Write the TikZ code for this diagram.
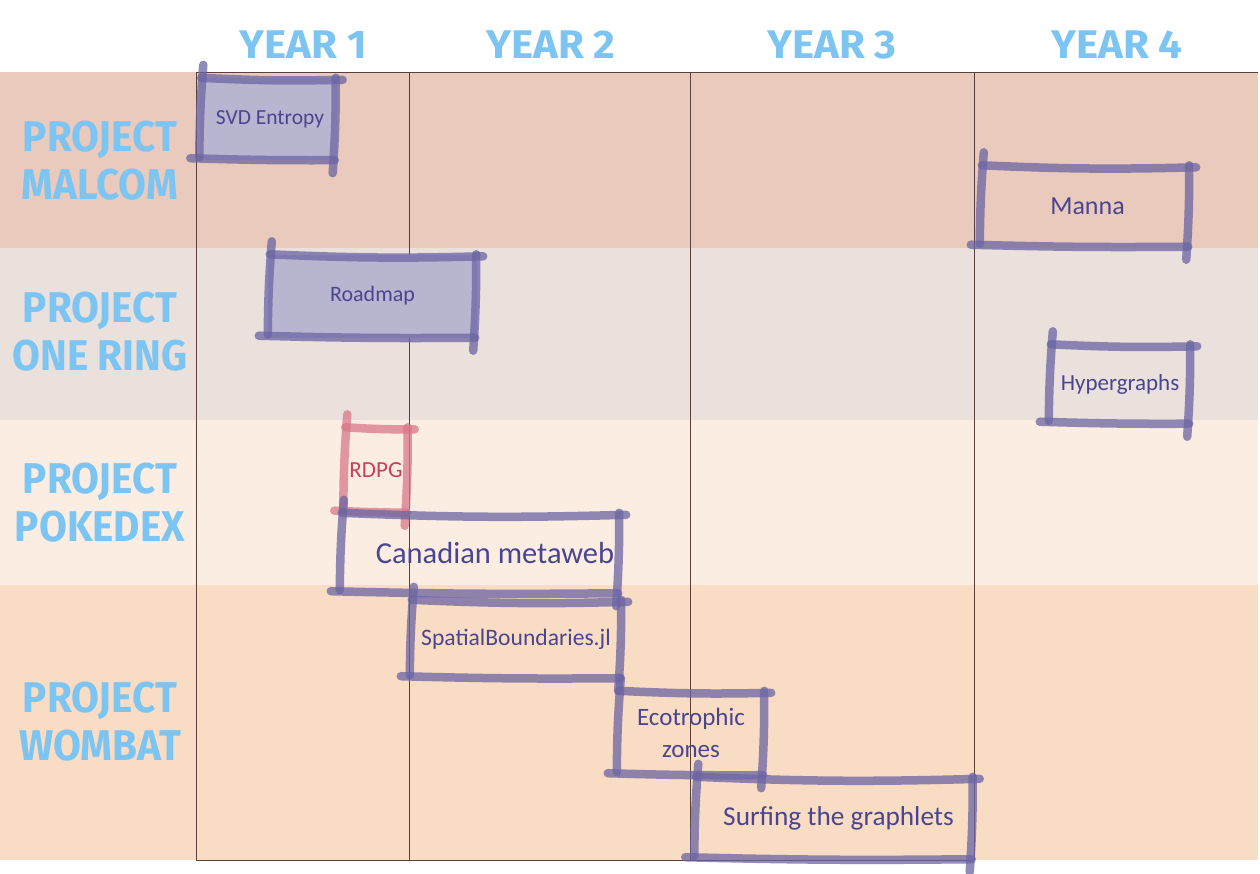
\documentclass[tikz,border=0pt]{standalone}
\usepackage{fontspec}
\newfontfamily\headfont{Fira Sans}[FakeStretch=0.94]
\newfontfamily\yearfont{Fira Sans}[FakeStretch=1.05]
\newfontfamily\boxfont{Carlito}
\definecolor{rowA}{HTML}{E9CABD}
\definecolor{rowB}{HTML}{EAE0DC}
\definecolor{rowC}{HTML}{FBEDE2}
\definecolor{rowD}{HTML}{F9DCC4}
\definecolor{headblue}{HTML}{7CC4F2}
\definecolor{gridline}{HTML}{5A4038}
\definecolor{pen}{HTML}{6B65A3}
\definecolor{redpen}{HTML}{D9788A}
\definecolor{boxfill}{HTML}{B7B5D0}
\definecolor{boxtext}{HTML}{4A4590}
\definecolor{redtext}{HTML}{C8405A}
\tikzset{
  yearlbl/.style={text=headblue,font=\yearfont\bfseries\fontsize{40}{40}\selectfont},
  projlbl/.style={text=headblue,font=\headfont\bfseries\fontsize{43}{48}\selectfont,align=center},
  task/.style={inner sep=0pt,text=boxtext,font=\boxfont\fontsize{22}{32}\selectfont,align=center},
  sk/.style={draw=#1,line width=8.5pt,opacity=0.75,line cap=round},
  grid/.style={draw=gridline,line width=0.9pt}
}
\newcommand\sketch[2]{%
  \draw[sk=#2] ([xshift=0pt,yshift=3pt]#1.south west) to[bend left=2] ([xshift=4pt,yshift=13pt]#1.north west);
  \draw[sk=#2] ([xshift=2pt]#1.north west) to[bend right=2] ([xshift=6pt,yshift=-2pt]#1.north east);
  \draw[sk=#2] ([xshift=-1pt]#1.north east) to[bend left=2] ([xshift=-4pt,yshift=-13pt]#1.south east);
  \draw[sk=#2] ([xshift=-2pt]#1.south east) to[bend left=1] ([xshift=-9pt,yshift=2pt]#1.south west);
}
\begin{document}
\begin{tikzpicture}[x=1pt,y=-1pt]
\useasboundingbox (0,0) rectangle (1260,873);
\fill[white] (0,0) rectangle (1260,873);
% rows
\fill[rowA] (0,72) rectangle (1258,248);
\fill[rowB] (0,248) rectangle (1258,420);
\fill[rowC] (0,420) rectangle (1258,585);
\fill[rowD] (0,585) rectangle (1258,860);
% grid
\draw[grid] (196,72) -- (1258,72);
\draw[grid] (196,860) -- (974,860);
\foreach \gx in {196,409,690,974} \draw[grid] (\gx,72) -- (\gx,860);
% headers
\node[yearlbl] (y1) at (303,45) {YEAR 1};
\node[yearlbl] (y2) at (551,45) {YEAR 2};
\node[yearlbl] (y3) at (832,45) {YEAR 3};
\node[yearlbl] (y4) at (1117,45) {YEAR 4};
\node[projlbl] (p1) at (100,161) {PROJECT\\MALCOM};
\node[projlbl] (p2) at (100,332) {PROJECT\\ONE RING};
\node[projlbl] (p3) at (100,503) {PROJECT\\POKEDEX};
\node[projlbl] (p4) at (100,722) {PROJECT\\WOMBAT};
% tasks
\node[task,fill=boxfill,minimum width=137pt,minimum height=82pt,font=\boxfont\fontsize{21.5}{32}\selectfont] (svd) at (268,119) {\hspace{4pt}SVD Entropy};
\node[task,fill=boxfill,minimum width=209pt,minimum height=83pt] (road) at (372.5,296) {Roadmap};
\node[task,minimum width=210pt,minimum height=81pt,font=\boxfont\fontsize{26}{32}\selectfont] (manna) at (1085,206) {\hspace{5pt}Manna};
\node[task,minimum width=142pt,minimum height=79pt,font=\boxfont\fontsize{23}{32}\selectfont] (hyper) at (1120,384) {Hypergraphs};
\node[task,text=redtext,minimum width=65pt,minimum height=85pt,font=\boxfont\fontsize{23}{32}\selectfont] (rdpg) at (376,470) {RDPG};
\node[task,minimum width=280pt,minimum height=80pt,font=\boxfont\fontsize{30.5}{32}\selectfont] (canad) at (480,553) {\hspace{30pt}Canadian metaweb};
\node[task,minimum width=212pt,minimum height=78pt,font=\boxfont\fontsize{23.6}{32}\selectfont] (spat) at (516,639) {SpatialBoundaries.jl};
\node[task,minimum width=148pt,minimum height=84pt,font=\boxfont\fontsize{25}{32}\selectfont] (eco) at (691,733) {Ecotrophic\\zones};
\node[task,minimum width=279pt,minimum height=82pt,font=\boxfont\fontsize{27.3}{32}\selectfont] (surf) at (834,818) {\hspace{9pt}Surfing the graphlets};
\sketch{svd}{pen}
\sketch{road}{pen}
\sketch{manna}{pen}
\sketch{hyper}{pen}
\sketch{rdpg}{redpen}
\sketch{canad}{pen}
\sketch{spat}{pen}
\sketch{eco}{pen}
\sketch{surf}{pen}
\end{tikzpicture}
\end{document}
